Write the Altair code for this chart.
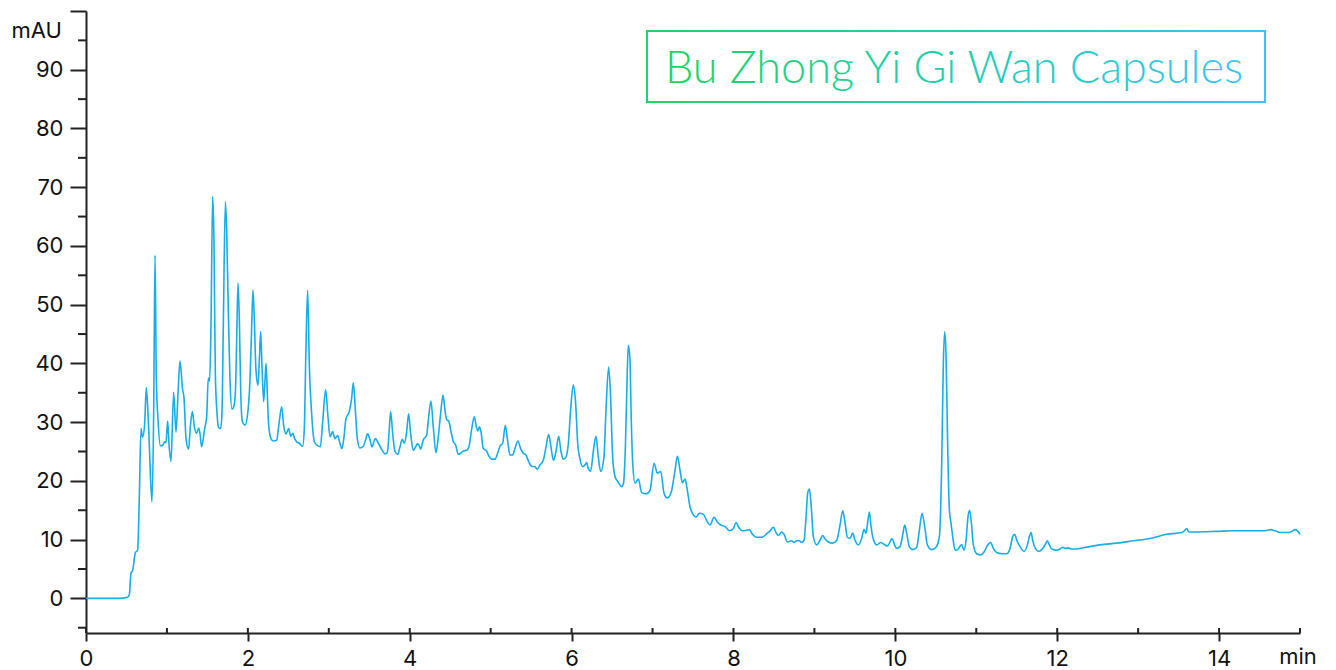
import altair as alt
import pandas as pd

# ---- data ----
time_min = [
    0.0, 0.41, 0.515, 0.535, 0.556, 0.577, 0.61, 0.638, 0.659, 0.68, 0.70, 0.725, 0.745, 0.766, 0.783,
    0.815, 0.836, 0.853, 0.869, 0.89, 0.918, 0.947, 0.972, 0.988, 1.009, 1.025, 1.05, 1.083, 1.112,
    1.137, 1.161, 1.194, 1.21, 1.236, 1.268, 1.289, 1.314, 1.339, 1.367, 1.392, 1.408, 1.429, 1.466,
    1.491, 1.511, 1.528, 1.544, 1.565, 1.581, 1.598, 1.619, 1.639, 1.664, 1.68, 1.697, 1.722, 1.738,
    1.759, 1.779, 1.804, 1.825, 1.845, 1.862, 1.878, 1.895, 1.911, 1.932, 1.965, 1.998, 2.026, 2.047,
    2.063, 2.08, 2.10, 2.125, 2.142, 2.158, 2.175, 2.195, 2.212, 2.224, 2.24, 2.257, 2.286, 2.315,
    2.356, 2.38, 2.418, 2.442, 2.471, 2.504, 2.529, 2.554, 2.578, 2.607, 2.636, 2.677, 2.698, 2.718,
    2.739, 2.76, 2.788, 2.821, 2.854, 2.895,
    2.924, 2.961, 2.99, 3.015, 3.047, 3.076, 3.109, 3.138, 3.163, 3.188, 3.212, 3.253, 3.282, 3.303,
    3.328, 3.352, 3.385, 3.426, 3.455, 3.48, 3.509, 3.533, 3.575, 3.612, 3.653, 3.694, 3.723, 3.744,
    3.764, 3.789, 3.818, 3.851, 3.88, 3.908, 3.933, 3.962, 3.986, 4.011, 4.044, 4.073, 4.094, 4.114,
    4.135, 4.168, 4.209, 4.234, 4.262, 4.291, 4.324, 4.353, 4.382, 4.411, 4.435, 4.456, 4.481, 4.51,
    4.538, 4.567, 4.6, 4.629, 4.662, 4.703, 4.736, 4.765, 4.798, 4.823, 4.843, 4.86, 4.88, 4.909,
    4.95, 4.983, 5.012, 5.053, 5.086, 5.115, 5.148, 5.181, 5.206, 5.239, 5.272, 5.3, 5.337, 5.37,
    5.403, 5.436, 5.469, 5.506, 5.548, 5.576, 5.609, 5.65, 5.684, 5.716, 5.745, 5.774, 5.807, 5.84,
    5.869, 5.898, 5.931, 5.96, 5.988, 6.021, 6.05, 6.075, 6.103, 6.136, 6.165, 6.186, 6.206, 6.235,
    6.268, 6.301, 6.33, 6.359, 6.4, 6.425, 6.458, 6.482, 6.507, 6.537, 6.57, 6.619, 6.64, 6.665,
    6.685, 6.70, 6.72, 6.738, 6.755,
    6.784, 6.825, 6.866, 6.92, 6.969, 7.019, 7.06, 7.101, 7.142, 7.183, 7.233, 7.278, 7.307, 7.34,
    7.369, 7.402, 7.43, 7.463, 7.505, 7.537, 7.579, 7.628, 7.678, 7.71, 7.76, 7.801, 7.842, 7.896,
    7.95, 7.999, 8.032, 8.065, 8.106, 8.164, 8.197, 8.23, 8.279, 8.349, 8.411, 8.452, 8.493, 8.526,
    8.555, 8.596, 8.629, 8.666, 8.72, 8.748, 8.781, 8.814, 8.843, 8.872, 8.897, 8.917, 8.938, 8.958,
    8.987, 9.028, 9.07, 9.103, 9.131, 9.173, 9.226, 9.276, 9.317, 9.35, 9.379, 9.408, 9.44, 9.473,
    9.502, 9.543, 9.584, 9.613, 9.638, 9.659, 9.679, 9.7, 9.729, 9.77, 9.819, 9.86, 9.902, 9.935,
    9.959, 9.988, 10.017, 10.058, 10.091, 10.116, 10.14, 10.173, 10.215, 10.264, 10.297, 10.33,
    10.363, 10.396, 10.449, 10.503, 10.544, 10.573, 10.593, 10.61, 10.626, 10.647, 10.668, 10.688,
    10.709,
    10.738, 10.771, 10.8, 10.82, 10.849, 10.874, 10.898, 10.919, 10.94, 10.964, 11.005, 11.055,
    11.096, 11.137, 11.178, 11.211, 11.253, 11.314, 11.376, 11.417, 11.45, 11.475, 11.5, 11.541,
    11.59, 11.632, 11.656, 11.677, 11.697, 11.73, 11.767, 11.809, 11.85, 11.879, 11.903, 11.932,
    11.994, 12.035, 12.068, 12.097, 12.138, 12.179, 12.241, 12.323, 12.53, 12.735, 12.941, 13.147,
    13.353, 13.538, 13.571, 13.6, 13.625, 13.683, 13.971, 14.177, 14.383, 14.547, 14.597, 14.638,
    14.692, 14.754, 14.836, 14.885, 14.939, 14.968, 15.0,
]

absorbance_mau = [
    0.0, 0.0, 0.2, 0.6, 4.3, 4.8, 7.8, 8.2, 17.3, 28.9, 27.4, 29.8, 35.9, 31.5, 25.8,
    16.4, 31.5, 58.4, 37.2, 30.4, 26.0, 26.0, 26.7, 26.5, 30.2, 26.4, 23.3, 35.1, 28.3,
    34.9, 40.4, 35.5, 34.3, 27.2, 25.4, 29.2, 31.8, 29.2, 28.1, 29.0, 28.1, 25.8, 28.9,
    30.9, 37.5, 37.0, 46.2, 68.4, 61.0, 38.3, 31.5, 29.1, 28.9, 31.5, 46.8, 67.5, 62.7,
    48.5, 37.2, 32.2, 32.6, 34.9, 44.0, 53.7, 47.4, 35.5, 30.1, 29.5, 31.5, 37.2, 46.2,
    52.5, 47.4, 38.9, 36.3, 40.6, 45.4, 39.4, 33.5, 37.2, 40.0, 34.9, 29.5, 27.2, 26.8,
    26.9, 29.2, 32.6, 29.5, 28.0, 28.9, 27.6, 28.1, 27.2, 26.6, 26.4, 25.9, 29.2, 42.8,
    52.5, 39.4, 31.5, 26.7, 26.1, 25.8,
    30.0, 35.5, 30.9, 27.5, 28.4, 27.2, 27.7, 26.4, 25.5, 27.5, 30.6, 31.8, 34.0, 36.7,
    32.1, 27.2, 25.6, 25.9, 27.0, 28.0, 27.0, 25.8, 27.2, 26.4, 25.4, 24.6, 24.8, 28.1,
    31.8, 28.1, 25.0, 24.5, 25.8, 27.1, 26.4, 28.4, 31.4, 28.1, 25.2, 25.8, 26.3, 26.1,
    25.4, 27.0, 27.8, 30.9, 33.6, 29.2, 24.8, 27.5, 31.5, 34.6, 32.1, 30.4, 30.2, 28.4,
    26.7, 26.1, 24.5, 24.7, 25.1, 25.2, 26.1, 28.8, 30.9, 29.2, 28.5, 29.2, 28.4, 25.5,
    25.1, 24.1, 23.7, 23.7, 24.7, 25.9, 26.4, 29.4, 27.2, 24.4, 24.4, 25.5, 26.8, 25.5,
    24.7, 24.4, 23.3, 22.5, 22.4, 22.0, 22.7, 23.5, 25.8, 27.9, 25.8, 23.5, 25.0, 27.6,
    25.0, 23.7, 24.1, 26.4, 32.1, 36.3, 33.2, 26.4, 23.8, 22.4, 22.7, 23.1, 22.1, 21.6,
    25.0, 27.6, 24.1, 21.6, 24.1, 32.1, 39.4, 34.3, 24.1, 20.7, 19.9, 19.0, 19.5, 26.0,
    37.0, 43.1, 41.0, 30.0, 23.0,
    19.6, 20.3, 18.0, 17.8, 18.4, 23.0, 21.3, 21.6, 17.9, 17.1, 18.2, 21.8, 24.2, 21.8,
    19.7, 20.3, 18.4, 15.6, 14.2, 13.8, 14.5, 14.3, 13.0, 12.5, 13.8, 13.0, 12.5, 12.2,
    11.5, 11.9, 12.9, 12.1, 11.5, 11.6, 11.7, 11.0, 10.4, 10.4, 11.0, 11.5, 12.1, 11.2,
    10.7, 11.3, 10.8, 9.6, 9.8, 9.5, 9.8, 9.8, 9.5, 9.9, 13.9, 17.9, 18.6, 16.2,
    10.5, 9.1, 9.9, 10.7, 10.1, 9.6, 9.4, 9.9, 12.5, 14.9, 12.8, 10.4, 10.2, 11.1,
    9.9, 9.1, 10.2, 11.7, 11.1, 13.0, 14.7, 12.2, 10.0, 9.1, 9.5, 9.2, 8.9, 9.6,
    10.2, 9.2, 8.5, 8.8, 10.8, 12.5, 11.1, 8.8, 8.3, 8.7, 11.6, 14.5,
    12.2, 9.1, 8.3, 8.7, 10.5, 23.0, 40.0, 45.4, 41.7, 25.8, 15.0, 12.8,
    10.5,
    8.2, 8.3, 8.9, 9.1, 8.2, 9.9, 13.9, 15.0, 12.8, 9.1, 7.6, 7.4,
    7.9, 9.0, 9.5, 8.5, 7.8, 7.6, 7.6, 8.5, 10.5, 10.9, 9.9, 8.8,
    8.0, 9.1, 10.5, 11.2, 9.9, 8.5, 8.0, 8.3, 9.1, 9.8, 9.1, 8.4,
    8.2, 8.4, 8.7, 8.5, 8.6, 8.4, 8.4, 8.6, 9.1, 9.4, 9.8, 10.2,
    10.9, 11.2, 11.5, 11.9, 11.3, 11.3, 11.4, 11.5, 11.5, 11.5, 11.6, 11.7,
    11.5, 11.2, 11.2, 11.3, 11.7, 11.5, 10.9,
]

x_major_ticks = [0, 2, 4, 6, 8, 10, 12, 14]
x_all_ticks = list(range(0, 16))
y_major_ticks = [0, 10, 20, 30, 40, 50, 60, 70, 80, 90, 100]
y_minor_ticks = [-5, 5, 15, 25, 35, 45, 55, 65, 75, 85, 95]
title_text = ["Bu Zhong Yi Gi Wan Capsules"]
x_unit = "min"
y_unit = "mAU"

# ---- chart ----
W, H = 1214, 622
FONT = "Inter"
AXC = "#222222"
LINE = "#15aee8"

xs = alt.Scale(domain=[0, 15], nice=False, zero=False)
ys = alt.Scale(domain=[-5.9, 100], nice=False, zero=False)
x_axis = alt.Axis(values=x_major_ticks, tickSize=8, labelPadding=24, labelFlush=False,
                  labelBaseline="alphabetic", format="d", title=None)
y_axis = alt.Axis(values=y_major_ticks, tickSize=16, labelPadding=7, title=None, labelFlush=False,
                  labelExpr="datum.value == 100 ? '' : datum.label")

df = pd.DataFrame({"t": time_min, "v": absorbance_mau})
line = alt.Chart(df).mark_line(color=LINE, strokeWidth=1.6, interpolate="monotone").encode(
    x=alt.X("t:Q", scale=xs, title=None, axis=x_axis),
    y=alt.Y("v:Q", scale=ys, title=None, axis=y_axis),
)

y_minor = alt.Chart(pd.DataFrame({"v": y_minor_ticks})).mark_rule(
    color=AXC, strokeWidth=2
).encode(y=alt.Y("v:Q", scale=ys, title=None, axis=y_axis), x=alt.value(0), x2=alt.value(-8))

x_inner = alt.Chart(pd.DataFrame({"t": x_all_ticks})).mark_rule(
    color=AXC, strokeWidth=2
).encode(x=alt.X("t:Q", scale=xs, title=None, axis=x_axis), y=alt.value(H), y2=alt.value(H - 5))

grad = alt.LinearGradient(
    gradient="linear", x1=0, y1=0, x2=1, y2=0,
    stops=[alt.GradientStop(color="#1ed662", offset=0),
           alt.GradientStop(color="#1fcfb0", offset=0.5),
           alt.GradientStop(color="#38c6f6", offset=1)],
)

tdf = pd.DataFrame({"label": title_text})
box = alt.Chart(tdf).mark_rect(fillOpacity=0, stroke=grad, strokeWidth=2).encode(
    x=alt.value(561), x2=alt.value(1179), y=alt.value(20), y2=alt.value(91)
)
title = alt.Chart(tdf).mark_text(
    fill=grad, font="Lato", fontSize=45, fontWeight=300, align="center", baseline="alphabetic"
).encode(text="label:N", x=alt.value(868), y=alt.value(72))

units = pd.DataFrame({"u": [x_unit, y_unit]})
xu = alt.Chart(units).transform_filter(alt.datum.u == x_unit).mark_text(
    font=FONT, fontSize=22, color="#111111", align="center", baseline="alphabetic"
).encode(text="u:N", x=alt.value(1212), y=alt.value(653))
yu = alt.Chart(units).transform_filter(alt.datum.u == y_unit).mark_text(
    font=FONT, fontSize=22, color="#111111", align="right", baseline="alphabetic"
).encode(text="u:N", x=alt.value(-24), y=alt.value(27))

chart = alt.layer(line, y_minor, x_inner, box, title, xu, yu).properties(
    width=W, height=H,
    autosize=alt.AutoSizeParams(type="none"),
    padding={"left": 78, "top": 3, "right": 28, "bottom": 36},
).configure_view(stroke=None).configure_axis(
    grid=False, domainColor=AXC, domainWidth=2, tickColor=AXC, tickWidth=2,
    labelFont=FONT, labelFontSize=22, labelColor="#111111",
)

chart.save("out.html", embed_options={"renderer": "svg", "actions": False})
